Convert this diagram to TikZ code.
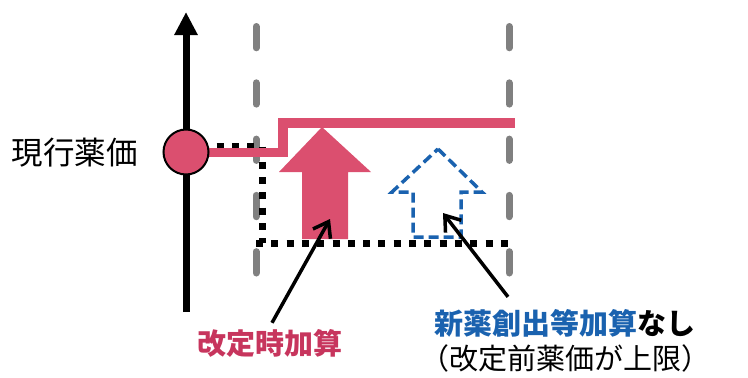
\documentclass[tikz,border=0pt]{standalone}
\usepackage{fontspec}
\setmainfont{Noto Sans CJK JP}
\usetikzlibrary{arrows.meta}
\definecolor{kasan}{HTML}{DB4F6F}
\definecolor{kasantext}{HTML}{C7355D}
\definecolor{nashi}{HTML}{1A62AF}
\definecolor{guide}{HTML}{808080}
\tikzset{
	label text/.style={inner sep=1pt, font=\fontsize{29pt}{33pt}\selectfont},
	guide line/.style={draw=guide, line width=7pt, line cap=round, dash pattern=on 21.3pt off 35pt},
	base line/.style={draw=black, line width=7pt, dash pattern=on 7pt off 8.3pt},
	price line/.style={draw=kasan, line width=9.5pt, line join=miter},
	pointer/.style={draw=black, line width=3.5pt, -{Straight Barb[length=14pt, width=20pt]}}
}
\begin{document}
\begin{tikzpicture}[x=1pt, y=-1pt]
		\useasboundingbox (0, 0) rectangle (748, 378);
		\draw[guide line] (256, 26.5) -- (256, 273.5);
		\draw[guide line] (509, 26.5) -- (509, 273.5);
		\draw[line width=7pt, -{Triangle[width=22pt, length=23pt]}] (186, 312) -- (186, 12);
		\fill[kasan] (322, 127) -- (371, 172) -- (348, 172) -- (348, 239) -- (302, 239) -- (302, 172) -- (279, 172) -- cycle;
		\draw[draw=nashi, line width=3.5pt, dash pattern=on 10pt off 5pt, line join=miter] (438, 149) -- (482, 192) -- (461, 192) -- (461, 237) -- (413, 237) -- (413, 192) -- (392, 192) -- cycle;
		\draw[base line] (186, 146) -- (262, 146) -- (262, 243);
		\draw[base line] (256, 243) -- (515, 243);
		\draw[price line] (186, 152.5) -- (283, 152.5) -- (283, 123) -- (515, 123);
		\node[circle, draw=black, line width=2pt, fill=kasan, minimum size=45pt, inner sep=0pt] (price) at (186, 152) {};
		\coordinate (kasantip) at (330, 219);
		\coordinate (nashitip) at (443, 213);
		\node[label text, font=\fontsize{31.5pt}{35pt}\selectfont] (genko) at (75, 153) {現行薬価};
		\node[label text, text=kasantext, font=\fontsize{29pt}{33pt}\selectfont\bfseries] (kaitei) at (270, 343) {改定時加算};
		\node[label text, font=\fontsize{29pt}{33pt}\selectfont\bfseries] (shinyaku) at (565, 323) {\textcolor{nashi}{新薬創出等加算}なし};
		\node[label text] (jogen) at (565, 358) {（改定前薬価が上限）};
		\draw[pointer] (kaitei.north) ++(2, -5) -- (kasantip);
		\draw[pointer] (shinyaku.north) ++(-57, -11) -- (nashitip);
	\end{tikzpicture}
\end{document}
